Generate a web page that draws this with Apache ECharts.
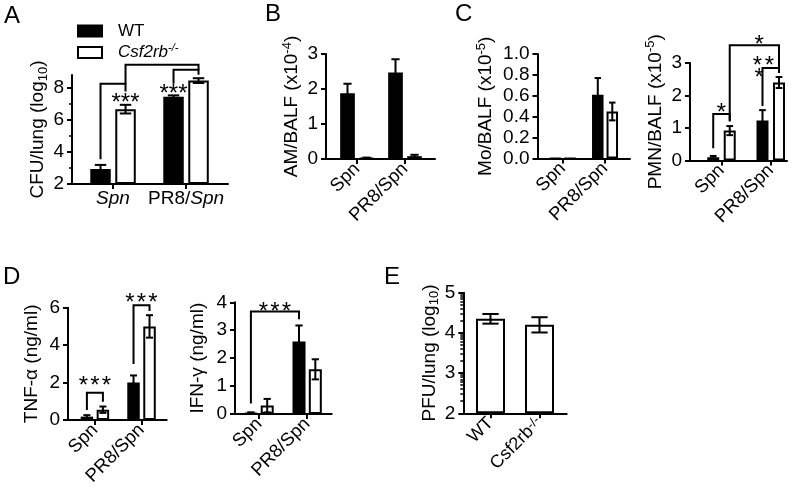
<!DOCTYPE html>
<html>
<head>
<meta charset="utf-8">
<title>Figure</title>
<script src="https://cdn.jsdelivr.net/npm/echarts@6/dist/echarts.min.js"></script>
<style>
html, body { margin: 0; padding: 0; background: #fff; }
#main { width: 800px; height: 493px; }
</style>
</head>
<body>
<div id="main"></div>
<script>
// ---- data ----
var groups = ['Spn', 'PR8/Spn'];

// A  CFU/lung (log10)
var cfuWT = [2.94, 7.45], cfuWTErr = [0.25, 0.08];
var cfuKO = [6.67, 8.45], cfuKOErr = [0.27, 0.15];
var cfuTicks = [2, 4, 6, 8];
// brackets: [cat, bar, leftEnd, cat, bar, rightEnd, top]
var cfuBrackets = [[0, 0, 3.54, 0, 1, 7.77, 8.25], [0, 1, 8.25, 1, 1, 9.12, 9.44], [1, 0, 8.25, 1, 1, 8.81, 9.12]];
// stars: [cat, bar position, value, count]
var cfuStars = [[0, 1, 7.36, 3], [1, 0, 7.94, 3]];

// B  AM/BALF (x10^-4)
var amWT = [1.88, 2.47], amWTErr = [0.27, 0.38];
var amKO = [0.03, 0.08], amKOErr = [0.01, 0.04];
var amTicks = [0, 1, 2, 3];

// C  Mo/BALF (x10^-5)
var moWT = [0, 0.61], moWTErr = [0, 0.16];
var moKO = [0, 0.45], moKOErr = [0, 0.085];
var moTicks = [0, 0.2, 0.4, 0.6, 0.8, 1.0];

// C  PMN/BALF (x10^-5)
var pmnWT = [0.1, 1.23], pmnWTErr = [0.04, 0.32];
var pmnKO = [0.92, 2.4], pmnKOErr = [0.14, 0.17];
var pmnTicks = [0, 1, 2, 3];
var pmnBrackets = [[0, 0, 0.38, 0, 1, 1.2, 1.43], [0, 1, 1.23, 1, 1, 2.85, 3.55], [1, 0, 1.68, 1, 1, 2.69, 2.85]];
var pmnStars = [[0, 0.5, 1.61, 1], [1, -0.2, 3.72, 1], [1, 0.05, 3.08, 2], [1, -0.2, 2.69, 1]];

// D  TNF-a (ng/ml)
var tnfWT = [0.18, 2.0], tnfWTErr = [0.08, 0.38];
var tnfKO = [0.55, 5.0], tnfKOErr = [0.17, 0.6];
var tnfTicks = [0, 2, 4, 6];
var tnfBrackets = [[0, 0, 0.53, 0, 1, 0.98, 1.46], [1, 0, 2.99, 1, 1, 5.83, 6.13]];
var tnfStars = [[0, 0.5, 2.08, 3], [1, 0.5, 6.54, 3]];

// D  IFN-g (ng/ml)
var ifnWT = [0.04, 2.6], ifnWTErr = [0.02, 0.57];
var ifnKO = [0.3, 1.6], ifnKOErr = [0.24, 0.36];
var ifnTicks = [0, 1, 2, 3, 4];
var ifnBrackets = [[0, 0, 0.38, 1, 0, 3.39, 3.67]];
var ifnStars = [[0, 1.48, 3.85, 3]];

// E  PFU/lung (log10)
var pfuGroups = ['WT', 'Csf2rb-/-'];
var pfu = [4.35, 4.2], pfuErr = [0.12, 0.19];
var pfuTicks = [2, 3, 4, 5];

// ---- drawing ----
var FONT = 'Liberation Sans, Arial, Helvetica, sans-serif';
var BLACK = '#000';
var chart = echarts.init(document.getElementById('main'));

var grids = [], xAxes = [], yAxes = [], series = [];

var richText = {
    t: { fontSize: 19, lineHeight: 23, fontFamily: FONT, color: BLACK },
    i: { fontSize: 19, fontStyle: 'italic', fontFamily: FONT, color: BLACK },
    r: { fontSize: 19, fontFamily: FONT, color: BLACK },
    ri: { fontSize: 18, fontFamily: FONT, color: BLACK },
    sub: { fontSize: 13, lineHeight: 13, verticalAlign: 'bottom', fontFamily: FONT, color: BLACK },
    sup: { fontSize: 13, lineHeight: 13, verticalAlign: 'top', fontFamily: FONT, color: BLACK }
};

function italicSpn(s) {
    return s.replace('PR8/', '{r|PR8/}').replace(/Spn$/, '{i|Spn}');
}
function koLabel(s) {
    return s.indexOf('-/-') > 0 ? '{ri|' + s.replace('-/-', '') + '}{sup|-/-}' : '{ri|' + s + '}';
}

function offsetOf(p, k) {
    return (k - (p.bars.length - 1) / 2) * p.pitch;
}

function errorRender(p) {
    return function (params, api) {
        var cat = api.value(0), m = api.value(1), e = api.value(2), k = api.value(3);
        var top = api.coord([cat, m + e]), bot = api.coord([cat, m - e]);
        var x = top[0] + offsetOf(p, k);
        var c = p.barWidth * 0.28;
        var st = { stroke: BLACK, lineWidth: 2, fill: null };
        return { type: 'group', children: [
            { type: 'line', shape: { x1: x, y1: top[1], x2: x, y2: bot[1] }, style: st },
            { type: 'line', shape: { x1: x - c, y1: top[1], x2: x + c, y2: top[1] }, style: st },
            { type: 'line', shape: { x1: x - c, y1: bot[1], x2: x + c, y2: bot[1] }, style: st }
        ] };
    };
}

function bracketRender(p) {
    return function (params, api) {
        var l = api.coord([api.value(0), api.value(2)]);
        var r = api.coord([api.value(3), api.value(5)]);
        var yt = api.coord([api.value(0), api.value(6)])[1];
        var x1 = l[0] + offsetOf(p, api.value(1)), x2 = r[0] + offsetOf(p, api.value(4));
        return { type: 'polyline', shape: { points: [[x1, l[1]], [x1, yt], [x2, yt], [x2, r[1]]] },
            style: { stroke: BLACK, lineWidth: 2, fill: null } };
    };
}

function starRender(p) {
    return function (params, api) {
        var c = api.coord([api.value(0), api.value(2)]);
        var x = c[0] + offsetOf(p, api.value(1));
        var n = api.value(3), kids = [];
        for (var i = 0; i < n; i++) {
            kids.push({ type: 'text', style: { text: '*', x: x + (i - (n - 1) / 2) * p.starPitch,
                y: c[1] + 0.23 * p.starSize, fill: BLACK, fontSize: p.starSize, fontFamily: FONT,
                align: 'center', verticalAlign: 'middle' } });
        }
        return { type: 'group', children: kids };
    };
}

function panel(p) {
    var gi = grids.length;
    grids.push({ left: p.left, top: p.top, width: p.width, height: p.height });
    var xi = xAxes.length;
    xAxes.push({
        type: 'value', gridIndex: gi, min: p.xMin, max: p.xMax,
        axisLine: { onZero: false, lineStyle: { color: BLACK, width: 2 } },
        axisTick: { customValues: [0, 1], length: 5, lineStyle: { color: BLACK, width: 2 } },
        axisLabel: { customValues: [0, 1], rotate: p.rotate, margin: p.xMargin, fontSize: p.xFont,
            fontFamily: FONT, color: BLACK, rich: richText,
            formatter: function (v) { return p.catFmt ? p.catFmt(p.cats[v]) : p.cats[v]; } },
        splitLine: { show: false }
    });
    var yi = yAxes.length;
    yAxes.push({
        type: 'value', gridIndex: gi, min: p.yMin, max: p.yMax, startValue: p.yMin, position: 'left',
        name: p.name, nameLocation: 'middle', nameGap: p.nameGap,
        nameTextStyle: { rich: richText, color: BLACK },
        axisLine: { onZero: false, lineStyle: { color: BLACK, width: 2 } },
        axisTick: { customValues: p.ticks, length: 5, lineStyle: { color: BLACK, width: 2 } },
        axisLabel: { customValues: p.ticks, margin: 8, fontSize: p.yFont || 19, fontFamily: FONT, color: BLACK,
            formatter: p.yFmt || function (v) { return String(v); } },
        splitLine: { show: false }
    });
    if (p.minor) {
        yAxes.push({
            type: 'value', gridIndex: gi, min: p.yMin, max: p.yMax, position: 'left',
            axisLine: { show: false, onZero: false },
            axisTick: { customValues: p.minor, length: 3, lineStyle: { color: BLACK, width: 1.5 } },
            axisLabel: { show: false }, splitLine: { show: false }
        });
    }
    var gapPct = ((p.pitch - p.barWidth) / p.barWidth * 100) + '%';
    var errData = [];
    p.bars.forEach(function (b, k) {
        series.push({
            type: 'bar', name: b.name, xAxisIndex: xi, yAxisIndex: yi,
            barWidth: p.barWidth, barGap: gapPct,
            itemStyle: { color: b.fill, borderColor: BLACK, borderWidth: 2 },
            data: b.values.map(function (v, j) { return [j, v]; })
        });
        b.values.forEach(function (v, j) {
            if (b.errs[j] > 0) errData.push([j, v, b.errs[j], k]);
        });
    });
    series.push({ type: 'custom', xAxisIndex: xi, yAxisIndex: yi, z: 5, clip: false,
        renderItem: errorRender(p), encode: { x: 0, y: 1 }, data: errData });
    if (p.brackets) {
        series.push({ type: 'custom', xAxisIndex: xi, yAxisIndex: yi, z: 6, clip: false,
            renderItem: bracketRender(p), encode: { x: 0, y: 2 }, data: p.brackets });
    }
    if (p.stars) {
        series.push({ type: 'custom', xAxisIndex: xi, yAxisIndex: yi, z: 6, clip: false,
            renderItem: starRender(p), encode: { x: 0, y: 2 }, data: p.stars });
    }
}

function pair(wt, wtErr, ko, koErr) {
    return [{ name: 'WT', values: wt, errs: wtErr, fill: BLACK },
            { name: 'Csf2rb-/-', values: ko, errs: koErr, fill: '#fff' }];
}

// A
panel({ left: 72, top: 75, width: 156, height: 109, xMin: -0.562, xMax: 1.575, yMin: 2, yMax: 8.8,
    ticks: cfuTicks, minor: [3, 5, 7], cats: groups, catFmt: italicSpn, rotate: 0, xMargin: 5, xFont: 19,
    bars: pair(cfuWT, cfuWTErr, cfuKO, cfuKOErr), barWidth: 20.5, pitch: 25,
    name: '{t|CFU/lung (log}{sub|10}{t|)}', nameGap: 22.5,
    brackets: cfuBrackets, stars: cfuStars, starSize: 24, starPitch: 9.3 });
// B
panel({ left: 326, top: 54, width: 109, height: 105, xMin: -0.646, xMax: 1.625, yMin: 0, yMax: 3,
    ticks: amTicks, cats: groups, rotate: 45, xMargin: 7, xFont: 18.5,
    bars: pair(amWT, amWTErr, amKO, amKOErr), barWidth: 14.7, pitch: 19,
    name: '{t|AM/BALF (x10}{sup|-4}{t|)}', nameGap: 22.5 });
// C left
panel({ left: 537.5, top: 54, width: 92.5, height: 104.5, xMin: -0.596, xMax: 1.59, yMin: 0, yMax: 1,
    ticks: moTicks, yFont: 19, yFmt: function (v) { return v.toFixed(1); },
    cats: groups, rotate: 45, xMargin: 7, xFont: 18.5,
    bars: pair(moWT, moWTErr, moKO, moKOErr), barWidth: 11.5, pitch: 14.5,
    name: '{t|Mo/BALF (x10}{sup|-5}{t|)}', nameGap: 40 });
// C right
panel({ left: 690, top: 63, width: 97, height: 97.5, xMin: -0.639, xMax: 1.33, yMin: 0, yMax: 3,
    ticks: pmnTicks, cats: groups, rotate: 45, xMargin: 7, xFont: 18.5,
    bars: pair(pmnWT, pmnWTErr, pmnKO, pmnKOErr), barWidth: 12, pitch: 16.5,
    name: '{t|PMN/BALF (x10}{sup|-5}{t|)}', nameGap: 23,
    brackets: pmnBrackets, stars: pmnStars, starSize: 24, starPitch: 12 });
// D left
panel({ left: 68, top: 307.7, width: 98.7, height: 112.3, xMin: -0.577, xMax: 1.54, yMin: 0, yMax: 6,
    ticks: tnfTicks, cats: groups, rotate: 45, xMargin: 7, xFont: 18.5,
    bars: pair(tnfWT, tnfWTErr, tnfKO, tnfKOErr), barWidth: 12.5, pitch: 16,
    name: '{t|TNF-α (ng/ml)}', nameGap: 25,
    brackets: tnfBrackets, stars: tnfStars, starSize: 24, starPitch: 11.5 });
// D right
panel({ left: 235, top: 302.3, width: 96.7, height: 111.7, xMin: -0.5, xMax: 1.51, yMin: 0, yMax: 4,
    ticks: ifnTicks, cats: groups, rotate: 45, xMargin: 7, xFont: 18.5,
    bars: pair(ifnWT, ifnWTErr, ifnKO, ifnKOErr), barWidth: 13, pitch: 16.3,
    name: '{t|IFN-γ (ng/ml)}', nameGap: 26,
    brackets: ifnBrackets, stars: ifnStars, starSize: 24, starPitch: 11.5 });
// E
var pfuMinor = [];
[2, 3, 4].forEach(function (d) {
    for (var m = 2; m <= 9; m++) pfuMinor.push(d + Math.log10(m));
});
panel({ left: 463.3, top: 292.7, width: 103.4, height: 120.6, xMin: -0.555, xMax: 1.555, yMin: 2, yMax: 5,
    ticks: pfuTicks, minor: pfuMinor, cats: pfuGroups, catFmt: koLabel, rotate: 45, xMargin: 7, xFont: 18,
    bars: [{ name: 'PFU', values: pfu, errs: pfuErr, fill: '#fff' }], barWidth: 29, pitch: 49,
    name: '{t|PFU/lung (log}{sub|10}{t|)}', nameGap: 18.5 });

var letters = [['A', 4, 16], ['B', 265, 14], ['C', 455, 14], ['D', 3, 277], ['E', 384, 277]];

var option = {
    animation: false,
    backgroundColor: '#fff',
    textStyle: { fontFamily: FONT, color: BLACK },
    legend: {
        data: ['WT', 'Csf2rb-/-'], orient: 'vertical', left: 72, top: 16, itemWidth: 24, itemHeight: 11,
        itemGap: 1.5, icon: 'rect', selectedMode: false,
        textStyle: { fontSize: 17, lineHeight: 20, color: BLACK, padding: [0, 0, 0, 11],
            rich: {
                n: { fontSize: 17, fontFamily: FONT, color: BLACK },
                i: { fontSize: 17, fontStyle: 'italic', fontFamily: FONT, color: BLACK },
                sup: { fontSize: 11, lineHeight: 11, fontStyle: 'italic', verticalAlign: 'top', fontFamily: FONT, color: BLACK }
            } },
        formatter: function (name) {
            return name === 'WT' ? '{n|WT}' : '{i|Csf2rb}{sup|-/-}';
        }
    },
    graphic: letters.map(function (l) {
        return { type: 'text', left: l[1], top: l[2] - 12,
            style: { text: l[0], fontSize: 24, fontFamily: FONT, fill: BLACK } };
    }),
    grid: grids,
    xAxis: xAxes,
    yAxis: yAxes,
    series: series
};
chart.setOption(option);
</script>
</body>
</html>
